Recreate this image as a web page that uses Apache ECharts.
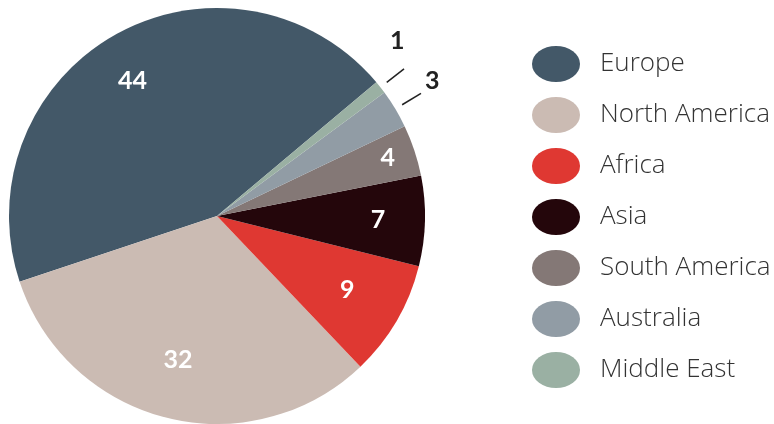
<!DOCTYPE html>
<html>
<head>
<meta charset="utf-8">
<script src="https://cdn.jsdelivr.net/npm/echarts@6/dist/echarts.min.js"></script>
<style>
  html, body { margin: 0; padding: 0; background: #fff; }
  #chart { width: 774px; height: 424px; }
</style>
</head>
<body>
<div id="chart"></div>
<script>
const categories = ['Europe', 'North America', 'Africa', 'Asia', 'South America', 'Australia', 'Middle East'];
const values = [44, 32, 9, 7, 4, 3, 1];
const colors = ['#435868', '#cbbbb3', '#df3832', '#24060b', '#847876', '#919ca5', '#9ab0a3'];

const chart = echarts.init(document.getElementById('chart'), null, { renderer: 'canvas' });

const mainData = categories.map((name, i) => ({
  name: name,
  value: values[i],
  itemStyle: { color: colors[i] }
}));

const labelData = categories.map((name, i) => {
  const inside = values[i] >= 4;
  return {
    name: name,
    value: values[i],
    label: inside
      ? { position: 'inside', color: '#ffffff' }
      : { position: 'outside', color: '#222222', distanceToLabelLine: 2 },
    labelLine: { show: !inside }
  };
});

const FONT = 'Lato, "Noto Sans", sans-serif';
const LEGEND_FONT = '"Open Sans", "Noto Sans", sans-serif';

// small label nudges to follow the reference's hand placement
const labelNudge = [[-6, 5], [0, -12], [-9, -7], [0, 0], [18, -7], [2, -12], [-16, -28]];

chart.setOption({
  animation: false,
  legend: {
    orient: 'vertical',
    left: 527,
    top: 41,
    itemWidth: 48,
    itemHeight: 36,
    itemGap: 15,
    icon: 'path://M0,18 A24,18 0 1,1 48,18 A24,18 0 1,1 0,18 Z',
    data: categories,
    selectedMode: false,
    textStyle: {
      fontFamily: LEGEND_FONT,
      fontSize: 26,
      fontWeight: 300,
      color: '#333333',
      padding: [0, 0, 0, 15]
    }
  },
  series: [
    {
      type: 'pie',
      center: [217, 216],
      radius: 208,
      startAngle: 40,
      clockwise: false,
      silent: true,
      label: { show: false },
      labelLine: { show: false },
      data: mainData
    },
    {
      type: 'pie',
      center: [217, 216],
      radius: [100, 216],
      startAngle: 40,
      clockwise: false,
      silent: true,
      avoidLabelOverlap: false,
      itemStyle: { color: 'rgba(0,0,0,0)' },
      label: {
        show: true,
        formatter: '{c}',
        fontFamily: FONT,
        fontSize: 25,
        fontWeight: 'bold'
      },
      labelLine: {
        length: 22,
        length2: 0,
        lineStyle: { color: '#222222', width: 1.5 }
      },
      labelLayout: function (params) {
        const n = labelNudge[params.dataIndex] || [0, 0];
        return { dx: n[0], dy: n[1] };
      },
      data: labelData
    }
  ]
});
</script>
</body>
</html>
